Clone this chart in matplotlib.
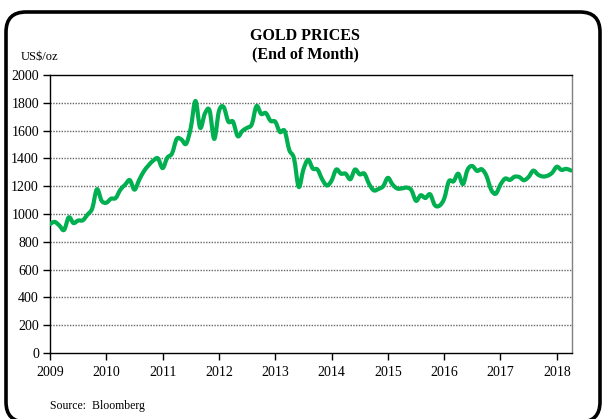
import numpy as np
import matplotlib.pyplot as plt
from matplotlib.patches import FancyBboxPatch, PathPatch
from matplotlib.path import Path
from matplotlib.transforms import IdentityTransform

# month-end gold price, US$/oz, Jan 2009 .. Apr 2018
gold_2009 = [928, 943, 917, 885, 976, 935, 953, 955, 996, 1040, 1178, 1095]
gold_2010 = [1081, 1110, 1115, 1175, 1210, 1244, 1175, 1245, 1307, 1350, 1384, 1400]
gold_2011 = [1330, 1405, 1435, 1540, 1536, 1505, 1620, 1813, 1620, 1722, 1746, 1540]
gold_2012 = [1740, 1770, 1665, 1664, 1560, 1598, 1620, 1645, 1776, 1720, 1726, 1670]
gold_2013 = [1664, 1590, 1598, 1460, 1400, 1195, 1320, 1390, 1327, 1320, 1250, 1205]
gold_2014 = [1240, 1320, 1290, 1290, 1250, 1320, 1285, 1290, 1216, 1170, 1180, 1200]
gold_2015 = [1260, 1212, 1183, 1184, 1190, 1172, 1095, 1135, 1115, 1142, 1064, 1060]
gold_2016 = [1110, 1235, 1235, 1290, 1215, 1320, 1345, 1310, 1322, 1275, 1175, 1146]
gold_2017 = [1212, 1255, 1245, 1268, 1266, 1243, 1267, 1312, 1283, 1270, 1275, 1296]
gold_2018 = [1340, 1317, 1325, 1313]

prices = (gold_2009 + gold_2010 + gold_2011 + gold_2012 + gold_2013 +
          gold_2014 + gold_2015 + gold_2016 + gold_2017 + gold_2018)
dates = 2009 + np.arange(len(prices)) / 12.0

years = list(range(2009, 2019))
yticks = list(range(0, 2001, 200))

GREEN = "#00B050"
plt.rcParams['font.family'] = ['Liberation Serif', 'DejaVu Serif']


def smooth_path(x, y):
    # smoothed line like a spreadsheet "smooth line": Bezier segments through the points
    pts = np.column_stack([x, y]).astype(float)
    ext = np.vstack([pts[0], pts, pts[-1]])
    verts = [pts[0]]
    codes = [Path.MOVETO]
    for i in range(len(pts) - 1):
        p0, p1, p2, p3 = ext[i], ext[i + 1], ext[i + 2], ext[i + 3]
        verts += [p1 + (p2 - p0) / 6, p2 - (p3 - p1) / 6, p2]
        codes += [Path.CURVE4] * 3
    return Path(verts, codes)


fig = plt.figure(figsize=(6.02, 4.19), dpi=100)
ax = fig.add_axes([50 / 602, 66 / 419, 522 / 602, 278 / 419])

line = PathPatch(smooth_path(dates, prices), facecolor='none', edgecolor=GREEN,
                 linewidth=3.0, capstyle='round', joinstyle='round', zorder=3)
ax.add_patch(line)

ax.set_xlim(2009, 2018.27)
ax.set_ylim(0, 2000)
ax.set_xticks(years)
ax.set_yticks(yticks)
ax.tick_params(axis='both', direction='out', length=5, width=1,
               labelsize=10, color='black')
ax.tick_params(axis='x', pad=4)
ax.tick_params(axis='y', pad=3)

for v in yticks[1:-1]:
    ax.axhline(v, color='#666666', linewidth=1, linestyle=(0, (1, 1)), zorder=1)

ax.spines['left'].set_color('black')
ax.spines['bottom'].set_color('black')
ax.spines['top'].set_color('black')
ax.spines['right'].set_color('#808080')
for s in ax.spines.values():
    s.set_linewidth(1)

fig.text(305 / 602, 1 - 36 / 419, 'GOLD PRICES', ha='center', va='center',
         fontsize=11.5, fontweight='bold')
fig.text(305 / 602, 1 - 54 / 419, '(End of Month)', ha='center', va='center',
         fontsize=11.5, fontweight='bold')
fig.text(21 / 602, 1 - 57 / 419, 'US$/oz', ha='left', va='center', fontsize=9)
fig.text(50 / 602, 1 - 406 / 419, 'Source:  Bloomberg', ha='left', va='center',
         fontsize=8.5)

# rounded frame round the whole chart
frame = FancyBboxPatch((6, -3), 594, 410, boxstyle='round,pad=0,rounding_size=20',
                       transform=IdentityTransform(), facecolor='none',
                       edgecolor='black', linewidth=2.6)
fig.patches.append(frame)

fig.savefig('out.png', dpi=100)
